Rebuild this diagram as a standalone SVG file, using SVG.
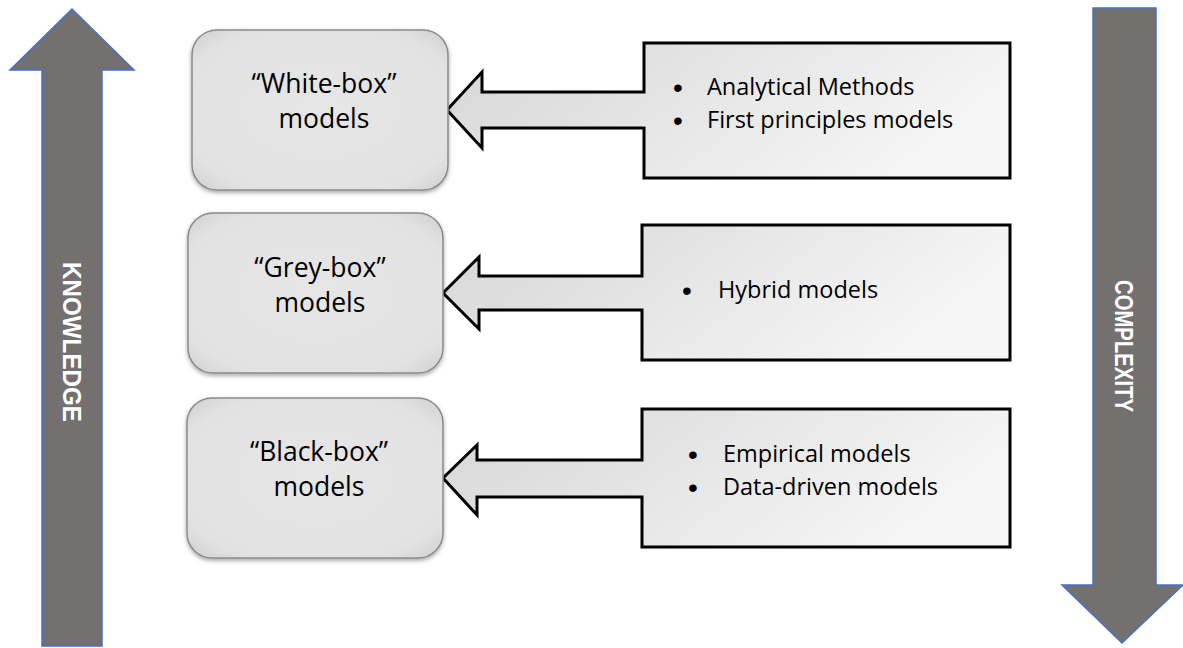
<svg xmlns="http://www.w3.org/2000/svg" width="1183" height="648" viewBox="0 0 1183 648">
  <defs>
    <linearGradient id="calloutFill" x1="0" y1="0" x2="1" y2="0.3">
      <stop offset="0" stop-color="#d6d6d6"/>
      <stop offset="1" stop-color="#f5f5f5"/>
    </linearGradient>
    <radialGradient id="boxFill" cx="0.5" cy="0.5" r="0.7">
      <stop offset="0" stop-color="#e6e6e6"/>
      <stop offset="0.8" stop-color="#e2e2e2"/>
      <stop offset="1" stop-color="#cfcfcf"/>
    </radialGradient>
    <filter id="softShadow" x="-10%" y="-10%" width="120%" height="125%">
      <feDropShadow dx="0" dy="2" stdDeviation="2" flood-color="#000" flood-opacity="0.35"/>
    </filter>
  </defs>
  <style>
    .bigArrow { fill: #747070; stroke: #4472c4; stroke-width: 1.5; }
    .axisLabel { font-family: "Liberation Sans", Arial, sans-serif; font-weight: bold; font-size: 26px; fill: #ffffff; text-anchor: middle; }
    .model { fill: url(#boxFill); stroke: #8a8a8a; stroke-width: 1.5; filter: url(#softShadow); }
    .modelText { font-family: "Open Sans", "Liberation Sans", sans-serif; font-size: 26.5px; fill: #000; text-anchor: middle; }
    .callout { fill: url(#calloutFill); stroke: #000; stroke-width: 3; stroke-linejoin: miter; }
    .item { font-family: "Open Sans", "Liberation Sans", sans-serif; font-size: 23.5px; fill: #000; }
    .bullet { font-family: "Liberation Sans", Arial, sans-serif; font-size: 28px; fill: #000; text-anchor: middle; }
  </style>

  <g id="knowledge-arrow">
    <polygon class="bigArrow" points="72,9 134,70 102,70 102,646 42,646 42,70 10,70"/>
    <text class="axisLabel" transform="translate(62.5,342) rotate(90)" textLength="160" lengthAdjust="spacingAndGlyphs">KNOWLEDGE</text>
  </g>

  <g id="complexity-arrow">
    <polygon class="bigArrow" points="1093,8 1156,8 1156,585 1183,585 1122,643 1062,585 1093,585"/>
    <text class="axisLabel" transform="translate(1114.5,346) rotate(90)" textLength="132" lengthAdjust="spacingAndGlyphs">COMPLEXITY</text>
  </g>

  <g id="connectors">
    <path id="callout-white" class="callout" d="M644,43 H1010 V178 H644 V128 H482 V148 L447,110 L482,72 V92 H644 Z"/>
    <path id="callout-grey" class="callout" d="M642,225 H1010 V360 H642 V310 H479 V329 L443,293 L479,257 V276 H642 Z"/>
    <path id="callout-black" class="callout" d="M642,409 H1010 V547 H642 V497 H477 V515 L443,478 L477,445 V460 H642 Z"/>
  </g>

  <g id="white-box">
    <rect class="model" x="192" y="30" width="256" height="160" rx="25" ry="25"/>
    <text class="modelText" x="324" y="93">“White-box”</text>
    <text class="modelText" x="324" y="128">models</text>
  </g>

  <g id="grey-box">
    <rect class="model" x="188" y="213" width="255" height="160" rx="25" ry="25"/>
    <text class="modelText" x="320" y="277">“Grey-box”</text>
    <text class="modelText" x="320" y="312">models</text>
  </g>

  <g id="black-box">
    <rect class="model" x="187" y="398" width="256" height="160" rx="25" ry="25"/>
    <text class="modelText" x="319" y="461">“Black-box”</text>
    <text class="modelText" x="319" y="496">models</text>
  </g>

  <g id="white-items">
    <text class="bullet" x="678" y="97">•</text>
    <text class="item" x="707" y="95">Analytical Methods</text>
    <text class="bullet" x="678" y="130">•</text>
    <text class="item" x="707" y="128">First principles models</text>
  </g>

  <g id="grey-items">
    <text class="bullet" x="687" y="300">•</text>
    <text class="item" x="718" y="298">Hybrid models</text>
  </g>

  <g id="black-items">
    <text class="bullet" x="693" y="464">•</text>
    <text class="item" x="723" y="462">Empirical models</text>
    <text class="bullet" x="693" y="497">•</text>
    <text class="item" x="723" y="495">Data-driven models</text>
  </g>
</svg>
